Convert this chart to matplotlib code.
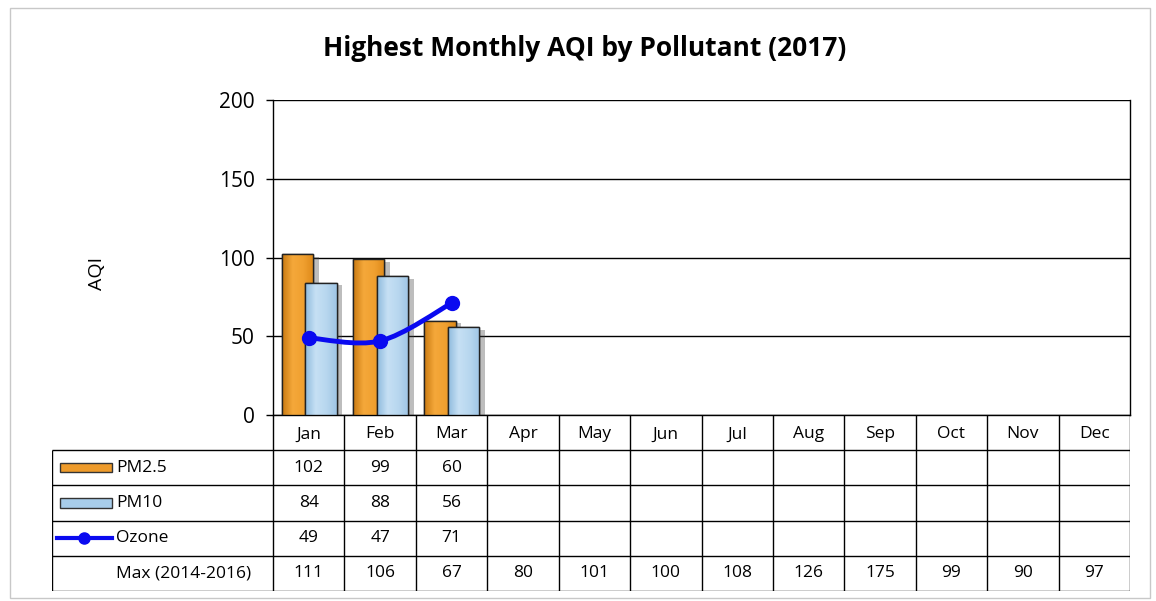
import matplotlib.pyplot as plt
import matplotlib.patheffects as pe
from matplotlib.patches import Rectangle, PathPatch
from matplotlib.path import Path
from matplotlib.colors import LinearSegmentedColormap
import numpy as np

meses = ['Jan', 'Feb', 'Mar', 'Apr', 'May', 'Jun', 'Jul', 'Aug', 'Sep', 'Oct', 'Nov', 'Dec']
pm25 = [102, 99, 60]
pm10 = [84, 88, 56]
ozone = [49, 47, 71]
max_hist = [111, 106, 67, 80, 101, 100, 108, 126, 175, 99, 90, 97]

COR_PM25 = '#EE9B2B'
COR_PM10 = '#A8CDEA'
COR_OZONE = '#0A0AF0'
grad_pm25 = LinearSegmentedColormap.from_list('g1', ['#C97A12', '#F5A83A', '#F0A030', '#DE8A1A'])
grad_pm10 = LinearSegmentedColormap.from_list('g2', ['#8FBBDE', '#C6E0F4', '#B8D7EF', '#9FC5E5'])

plt.rcParams['font.family'] = ['Open Sans', 'DejaVu Sans']

W, H = 1156, 601
fig = plt.figure(figsize=(W / 100, H / 100), dpi=100)

# moldura externa
fig.patches.append(Rectangle((10 / W, 3 / H), 1140 / W, 590 / H, transform=fig.transFigure,
                             fill=False, edgecolor='#C8C8C8', lw=1))

x0, x1 = 273, 1130
y_top, y_bot = 100, 415
ax = fig.add_axes([x0 / W, (H - y_bot) / H, (x1 - x0) / W, (y_bot - y_top) / H])

n = len(meses)
pos = np.arange(n)
sombra = [pe.SimplePatchShadow(offset=(4, -2), shadow_rgbFace='#444444', alpha=0.35), pe.Normal()]
grad = np.linspace(0, 1, 64).reshape(1, -1)


def barras(xpos, vals, cor, cmap, z):
    bs = ax.bar(xpos, vals, width=0.44, color=cor, edgecolor='#222222',
                lw=1, zorder=z, path_effects=sombra)
    for b in bs:
        im = ax.imshow(grad, cmap=cmap, aspect='auto', zorder=z + 0.1,
                       extent=(b.get_x(), b.get_x() + b.get_width(), 0, b.get_height()))
        im.set_clip_path(b)
        ax.add_patch(Rectangle((b.get_x(), 0), b.get_width(), b.get_height(), fill=False,
                               edgecolor='#222222', lw=1, zorder=z + 0.2))


barras(pos[:len(pm25)] - 0.16, pm25, COR_PM25, grad_pm25, 3)
barras(pos[:len(pm10)] + 0.17, pm10, COR_PM10, grad_pm10, 4)

# linha suavizada (Catmull-Rom) para o ozônio
xs = pos[:len(ozone)].astype(float)
ys = np.array(ozone, dtype=float)
verts = [(xs[0], ys[0])]
codes = [Path.MOVETO]
for i in range(len(xs) - 1):
    p0 = np.array([xs[max(i - 1, 0)], ys[max(i - 1, 0)]])
    p1 = np.array([xs[i], ys[i]])
    p2 = np.array([xs[i + 1], ys[i + 1]])
    p3 = np.array([xs[min(i + 2, len(xs) - 1)], ys[min(i + 2, len(xs) - 1)]])
    c1 = p1 + (p2 - p0) / 6
    c2 = p2 - (p3 - p1) / 6
    verts += [tuple(c1), tuple(c2), tuple(p2)]
    codes += [Path.CURVE4] * 3
ax.add_patch(PathPatch(Path(verts, codes), fill=False, edgecolor=COR_OZONE, lw=3.5, zorder=6))
ax.plot(xs, ys, 'o', color=COR_OZONE, ms=10, zorder=7)

ax.set_xlim(-0.5, n - 0.5)
ax.set_ylim(0, 200)
ax.set_yticks([0, 50, 100, 150, 200])
ax.tick_params(axis='y', labelsize=15, length=5, width=1, pad=8)
ax.set_xticks([])
ax.set_axisbelow(True)
ax.grid(axis='y', color='black', lw=1)
for s in ax.spines.values():
    s.set_color('black')
    s.set_linewidth(1)
ax.spines['top'].set_visible(False)
ax.set_ylabel('AQI', fontsize=14)
ax.yaxis.set_label_coords(-0.195, 0.45)

fig.text(585 / W, 1 - 48 / H, 'Highest Monthly AQI by Pollutant (2017)', ha='center', va='center',
         fontsize=19, fontweight='bold')

# tabela de dados
t_left, t_top, t_bot = 52, 415, 591
unid = (x1 - x0) / n
tax = fig.add_axes([t_left / W, (H - t_bot) / H, (x1 - t_left) / W, (t_bot - t_top) / H])
tax.set_xlim(-0.5 - (x0 - t_left) / unid, n - 0.5)
tax.set_ylim(5, 0)
tax.axis('off')
xl = tax.get_xlim()[0]

lk = dict(color='black', lw=1, solid_capstyle='butt')
for r in [1, 2, 3, 4, 5]:
    tax.plot([xl, n - 0.5], [r, r], **lk)
for k in range(n + 1):
    tax.plot([k - 0.5, k - 0.5], [0, 5], **lk)
tax.plot([xl, xl], [1, 5], **lk)

fs = 12.5
for k, m in enumerate(meses):
    tax.text(k, 0.55, m, ha='center', va='center', fontsize=fs)
linhas = [pm25, pm10, ozone, max_hist]
for r, vals in enumerate(linhas):
    for k, v in enumerate(vals):
        tax.text(k, r + 1.5, str(v), ha='center', va='center', fontsize=fs)

# chaves da legenda
kx0 = xl + 8 / unid
kx1 = xl + 60 / unid
tax.add_patch(Rectangle((kx0, 1.37), kx1 - kx0, 0.26, facecolor=COR_PM25, edgecolor='#333333', lw=1))
tax.add_patch(Rectangle((kx0, 2.37), kx1 - kx0, 0.26, facecolor=COR_PM10, edgecolor='#333333', lw=1))
tax.plot([xl + 5 / unid, kx1], [3.5, 3.5], color=COR_OZONE, lw=3)
tax.plot([(xl + 5 / unid + kx1) / 2], [3.5], 'o', color=COR_OZONE, ms=8)
tl = xl + 64 / unid
tax.text(tl, 1.5, 'PM2.5', ha='left', va='center', fontsize=fs)
tax.text(tl, 2.5, 'PM10', ha='left', va='center', fontsize=fs)
tax.text(tl, 3.5, 'Ozone', ha='left', va='center', fontsize=fs)
tax.text(tl, 4.5, 'Max (2014-2016)', ha='left', va='center', fontsize=fs)

fig.savefig('out.png', dpi=100)
